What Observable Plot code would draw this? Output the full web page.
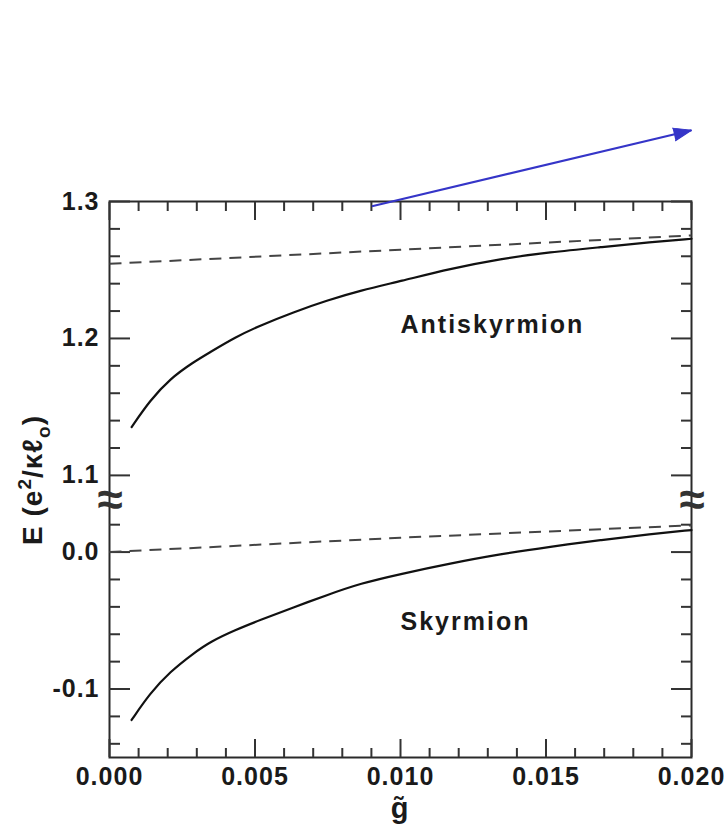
<!DOCTYPE html>
<html><head><meta charset="utf-8">
<script src="https://cdn.jsdelivr.net/npm/d3@7"></script>
<script src="https://cdn.jsdelivr.net/npm/@observablehq/plot@0.6"></script>
<style>html,body{margin:0;padding:0;background:#fff;} #chart{width:726px;height:826px;overflow:hidden}</style>
</head><body><div id="chart"></div>
<script>
// ---- data ----
const shift = 1.044;      // broken axis: upper branch (E≈1.1–1.3) drawn shifted down by this
const breakAt = 0.038;    // where the axis break symbol sits (lower-branch units)

const gCurve = [0.00076, 0.00139, 0.00208, 0.00288, 0.00346, 0.00432, 0.00518, 0.00632, 0.00747, 0.00862, 0.0100, 0.01171, 0.01343, 0.01515, 0.01687, 0.0186, 0.0200];
const eAntiskyrmion = [1.1353, 1.1547, 1.1706, 1.1827, 1.1900, 1.2009, 1.2095, 1.2192, 1.2277, 1.2350, 1.2418, 1.2509, 1.2582, 1.2630, 1.2666, 1.2703, 1.2728];
const eSkyrmion = [-0.1226, -0.1031, -0.0874, -0.0740, -0.0655, -0.0569, -0.0496, -0.0404, -0.0314, -0.0229, -0.0160, -0.0083, -0.0015, 0.0039, 0.0088, 0.0131, 0.0161];

const gDashed = [0.0, 0.010, 0.020];
const eAntiDashed = [1.2545, 1.2648, 1.2752];
const eSkyDashed = [0.0, 0.0105, 0.0195];

const xMajor = [0.000, 0.005, 0.010, 0.015, 0.020];
const xMinor = [0.001, 0.002, 0.003, 0.004, 0.006, 0.007, 0.008, 0.009, 0.011, 0.012, 0.013, 0.014, 0.016, 0.017, 0.018, 0.019];
const yUpperMajor = [1.1, 1.2, 1.3];
const yLowerMajor = [-0.1, 0.0];
const yUpperMinor = [1.12, 1.14, 1.16, 1.18, 1.22, 1.24, 1.26, 1.28];
const yLowerMinor = [-0.14, -0.12, -0.08, -0.06, -0.04, -0.02, 0.02];

const labelText = ["Antiskyrmion", "Skyrmion"];
const labelG = [0.0100, 0.0100];
const labelE = [1.2095, -0.051];
const labelBranch = ["upper", "lower"];

const arrowG = [0.00902, 0.0200];
const arrowE = [1.2966, 1.352];   // upper-branch units

// ---- build ----
const W = 726, H = 826, mL = 109, mR = 35, mT = 201, mB = 69;
const xDomain = [0, 0.02];
const yDomain = [-0.15, 1.3 - shift];
const up = e => e - shift;
const fmtY = v => (v > breakAt ? v + shift : v).toFixed(1);

const anti = gCurve.map((g, i) => ({g, y: up(eAntiskyrmion[i])}));
const sky = gCurve.map((g, i) => ({g, y: eSkyrmion[i]}));
const antiD = gDashed.map((g, i) => ({g, y: up(eAntiDashed[i])}));
const skyD = gDashed.map((g, i) => ({g, y: eSkyDashed[i]}));
const labels = labelText.map((t, i) => ({t, g: labelG[i], y: labelBranch[i] === "upper" ? up(labelE[i]) : labelE[i]}));
const arrow = arrowG.map((g, i) => ({g, y: up(arrowE[i])}));

const yMajor = [...yLowerMajor, ...yUpperMajor.map(up)];
const yMinor = [...yLowerMinor, ...yUpperMinor.map(up)];

// arrow head direction from scale factors
const pxX = (W - mL - mR) / (xDomain[1] - xDomain[0]);
const pxY = (H - mT - mB) / (yDomain[1] - yDomain[0]);
const adx = (arrow[1].g - arrow[0].g) * pxX;
const ady = (arrow[1].y - arrow[0].y) * pxY;
const headAngle = Math.atan2(adx, ady) * 180 / Math.PI;

const ink = "#1a1a1a";
const blue = "#3535c8";
const noText = () => "";

const plot = Plot.plot({
  width: W, height: H,
  marginLeft: mL, marginRight: mR, marginTop: mT, marginBottom: mB,
  x: {domain: xDomain},
  y: {domain: yDomain},
  style: {fontFamily: "'Liberation Sans', Arial, Helvetica, sans-serif", fontSize: "25px", fontWeight: "bold", letterSpacing: "1px", color: ink, background: "#fff"},
  marks: [
    Plot.frame({stroke: "#2a2a2a", strokeWidth: 2}),
    // ticks (inward) on all four sides
    Plot.axisX(xMinor, {anchor: "bottom", tickSize: -9, strokeWidth: 2, stroke: "#333", tickFormat: noText, label: null}),
    Plot.axisX(xMajor, {anchor: "bottom", tickSize: -18, strokeWidth: 2, stroke: "#333", tickFormat: noText, label: null}),
    Plot.axisX(xMinor, {anchor: "top", tickSize: -9, strokeWidth: 2, stroke: "#333", tickFormat: noText, label: null}),
    Plot.axisX(xMajor, {anchor: "top", tickSize: -18, strokeWidth: 2, stroke: "#333", tickFormat: noText, label: null}),
    Plot.axisY(yMinor, {anchor: "left", tickSize: -11, strokeWidth: 2, stroke: "#333", tickFormat: noText, label: null}),
    Plot.axisY(yMajor, {anchor: "left", tickSize: -21, strokeWidth: 2, stroke: "#333", tickFormat: noText, label: null}),
    Plot.axisY(yMinor, {anchor: "right", tickSize: -11, strokeWidth: 2, stroke: "#333", tickFormat: noText, label: null}),
    Plot.axisY(yMajor, {anchor: "right", tickSize: -21, strokeWidth: 2, stroke: "#333", tickFormat: noText, label: null}),
    // tick labels
    Plot.axisX(xMajor, {anchor: "bottom", tickSize: 0, tickPadding: 10, tickFormat: d3.format(".3f"), label: null, fill: ink}),
    Plot.axisY(yMajor, {anchor: "left", tickSize: 0, tickPadding: 10, tickFormat: fmtY, label: null, fill: ink}),
    // axis break marks
    Plot.text([breakAt], {y: d => d, frameAnchor: "left", textAnchor: "middle", dx: 1, text: () => "\u2248", fontSize: 46, fontWeight: "bold", fill: "#333"}),
    Plot.text([breakAt], {y: d => d, frameAnchor: "right", textAnchor: "middle", dx: 1, text: () => "\u2248", fontSize: 46, fontWeight: "bold", fill: "#333"}),
    // curves
    Plot.line(antiD, {x: "g", y: "y", stroke: "#444", strokeWidth: 2, strokeDasharray: "12,8", strokeLinecap: "butt"}),
    Plot.line(skyD, {x: "g", y: "y", stroke: "#444", strokeWidth: 2, strokeDasharray: "12,8", strokeLinecap: "butt"}),
    Plot.line(anti, {x: "g", y: "y", stroke: "#111", strokeWidth: 2.2, curve: "basis"}),
    Plot.line(sky, {x: "g", y: "y", stroke: "#111", strokeWidth: 2.2, curve: "basis"}),
    // labels
    Plot.text(labels, {x: "g", y: "y", text: "t", textAnchor: "start", fill: ink}),
    // blue arrow
    Plot.line(arrow, {x: "g", y: "y", stroke: blue, strokeWidth: 2, strokeLinecap: "butt"}),
    Plot.vector([arrow[1]], {x: "g", y: "y", rotate: headAngle, length: 18, r: 6.5, shape: "spike", anchor: "end", fill: blue, stroke: blue, strokeWidth: 1})
  ]
});

document.getElementById("chart").appendChild(plot);

// axis titles as real text with super/subscripts
const svg = d3.select(plot);
svg.selectAll("text").filter(function() { return this.textContent === "Antiskyrmion" || this.textContent === "Skyrmion"; })
  .style("letter-spacing", "2px");
const yl = svg.append("text")
  .attr("transform", "translate(42,480) rotate(-90)")
  .attr("text-anchor", "middle")
  .attr("fill", ink)
  .style("font-size", "28px");
yl.append("tspan").text("E (e");
yl.append("tspan").attr("dy", -11).style("font-size", "19px").text("2");
yl.append("tspan").attr("dy", 11).text("/\u03BA\u2113");
yl.append("tspan").attr("dy", 8).style("font-size", "19px").text("o");
yl.append("tspan").attr("dy", -8).text(")");

svg.append("text")
  .attr("x", 400).attr("y", 818)
  .attr("text-anchor", "middle")
  .attr("fill", ink)
  .style("font-size", "29px")
  .text("g\u0303");
</script>
</body></html>
